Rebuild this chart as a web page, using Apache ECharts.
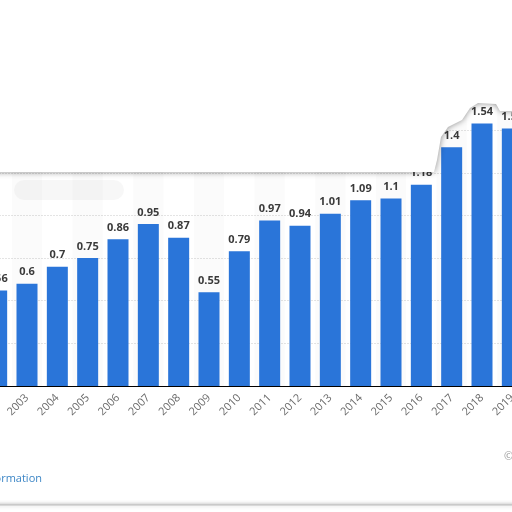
<!DOCTYPE html>
<html>
<head>
<meta charset="utf-8">
<script src="https://cdn.jsdelivr.net/npm/echarts@6/dist/echarts.min.js"></script>
<style>
html,body{margin:0;padding:0;background:#fff;}
#c{width:512px;height:512px;}
</style>
</head>
<body>
<div id="c"></div>
<script>
const years = ['2002','2003','2004','2005','2006','2007','2008','2009','2010','2011','2012','2013','2014','2015','2016','2017','2018','2019'];
const values = [0.56,0.6,0.7,0.75,0.86,0.95,0.87,0.55,0.79,0.97,0.94,1.01,1.09,1.1,1.18,1.4,1.54,1.51];
const yTicks = [0,0.25,0.5,0.75,1,1.25,1.5,1.75];

const chart = echarts.init(document.getElementById('c'));
chart.setOption({
  animation:false,
  backgroundColor:'#ffffff',
  grid:{left:-18.5,right:-15.5,top:87.6,bottom:126,containLabel:false,outerBoundsMode:'none'},
  xAxis:{
    type:'category',
    data:years,
    axisLine:{lineStyle:{color:'#000',width:1}},
    axisTick:{show:false},
    splitArea:{show:true,areaStyle:{color:['rgba(255,255,255,0)','rgba(0,0,0,0.014)']}},
    axisLabel:{rotate:45,color:'#6a6a6a',fontSize:11,fontFamily:'Open Sans',margin:10,interval:0}
  },
  yAxis:{
    type:'value',
    min:yTicks[0],max:yTicks[yTicks.length-1],interval:0.25,
    axisLabel:{show:false},
    axisLine:{show:false},
    axisTick:{show:false},
    splitLine:{lineStyle:{color:'#c8c8c8',type:[1,2],width:1}}
  },
  series:[{
    type:'bar',
    data:values,
    barWidth:21,
    itemStyle:{color:'#2a75d9'},
    label:{show:true,position:'top',distance:6,color:'#3a3a3a',fontWeight:'bold',fontSize:11,fontFamily:'Open Sans'}
  }],
  graphic:[
    {type:'rect',z:90,shape:{x:14,y:180,width:110,height:20,r:10},style:{fill:'rgba(0,0,0,0.03)',shadowBlur:22,shadowColor:'rgba(0,0,0,0.12)'}},
    {type:'polygon',z:100,shape:{points:[[-20,-20],[532,-20],[532,111],[500,111],[496,104],[478,103],[470,108],[462,120],[448,127],[441,137],[437,160],[434,172],[-20,172]]},
      style:{fill:'#ffffff',shadowBlur:6,shadowColor:'rgba(0,0,0,0.45)'}},
    {type:'rect',z:100,shape:{x:-10,y:505,width:540,height:20},style:{fill:'#ffffff',stroke:'#bdbdbd',lineWidth:1.2,shadowBlur:4,shadowColor:'rgba(0,0,0,0.3)'}},
    {type:'text',z:101,style:{text:'Additional Information',x:42,y:479,textAlign:'right',textVerticalAlign:'middle',fill:'#3d86c6',font:'11px "Open Sans"'}},
    {type:'text',z:101,style:{text:'© Statista 2021',x:504,y:457,textAlign:'left',textVerticalAlign:'middle',fill:'#9a9a9a',font:'11px "Open Sans"'}}
  ]
});
</script>
</body>
</html>
